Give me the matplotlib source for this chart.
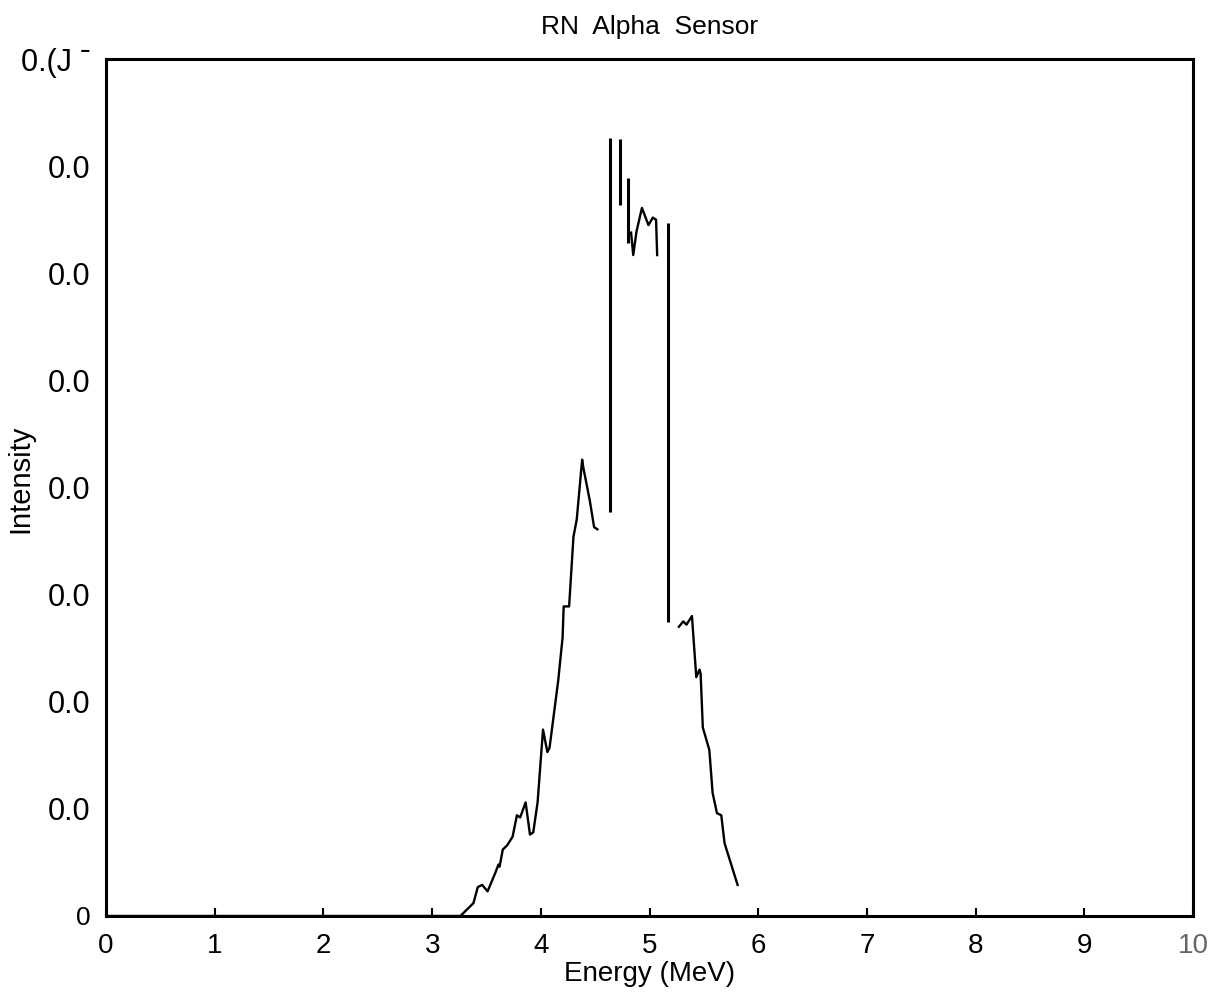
import numpy as np
import matplotlib
matplotlib.use("Agg")
import matplotlib.pyplot as plt

# spectrum, intensity in units of 0.01
seg1_e = [0.0, 3.20, 3.26, 3.31, 3.38, 3.42, 3.46, 3.51, 3.58, 3.61, 3.62, 3.65,
          3.69, 3.74, 3.78, 3.81, 3.86, 3.90, 3.93, 3.97, 4.02, 4.06, 4.08, 4.16,
          4.20, 4.21, 4.26, 4.30, 4.33, 4.38, 4.39, 4.45, 4.49, 4.52]
seg1_i = [0.0, 0.0, 0.0, 0.05, 0.12, 0.27, 0.29, 0.23, 0.40, 0.48, 0.46, 0.62,
          0.66, 0.74, 0.94, 0.92, 1.06, 0.76, 0.78, 1.06, 1.74, 1.53, 1.57, 2.20,
          2.60, 2.89, 2.89, 3.54, 3.70, 4.26, 4.19, 3.88, 3.63, 3.61]

seg2_e = [4.83, 4.85, 4.88, 4.93, 4.96, 4.99, 5.03, 5.06, 5.07]
seg2_i = [6.38, 6.17, 6.39, 6.61, 6.53, 6.45, 6.52, 6.50, 6.17]

seg3_e = [5.27, 5.31, 5.34, 5.39, 5.43, 5.46, 5.47, 5.49, 5.55, 5.58, 5.62,
          5.66, 5.69, 5.73, 5.81]
seg3_i = [2.70, 2.75, 2.72, 2.80, 2.23, 2.30, 2.26, 1.76, 1.55, 1.15, 0.96,
          0.94, 0.68, 0.55, 0.29]

# isolated vertical strokes: energy, low, high
vline_e = [4.64, 4.73, 4.80, 5.17]
vline_lo = [3.77, 6.64, 6.28, 2.74]
vline_hi = [7.26, 7.25, 6.89, 6.47]

xticks = [0, 1, 2, 3, 4, 5, 6, 7, 8, 9, 10]
yticks = [0, 1, 2, 3, 4, 5, 6, 7, 8]
ylabels = ["0", "0.0", "0.0", "0.0", "0.0", "0.0", "0.0", "0.0", "0.(J ˉ"]

scale = 0.01
fam = ["Liberation Sans", "DejaVu Sans"]

fig = plt.figure(figsize=(12.19, 9.99), dpi=100)
ax = fig.add_axes([0.087, 0.0831, 0.8917, 0.8578])

ax.plot(seg1_e, np.array(seg1_i) * scale, color="black", lw=1.7)
ax.plot(seg2_e, np.array(seg2_i) * scale, color="black", lw=1.7)
ax.plot(seg3_e, np.array(seg3_i) * scale, color="black", lw=1.7)
ax.vlines(vline_e, np.array(vline_lo) * scale, np.array(vline_hi) * scale,
          color="black", lw=2.2)

ax.set_xlim(0, 10)
ax.set_ylim(0, 0.08)

ax.set_xticks(xticks)
ax.set_xticklabels([str(t) for t in xticks], family=fam, fontsize=20)
ax.get_xticklabels()[-1].set_color("#666666")
ax.set_yticks(np.array(yticks) * scale)
ax.set_yticklabels(ylabels, family=fam, fontsize=22)
ax.get_yticklabels()[0].set_fontsize(19)
ax.tick_params(axis="x", direction="in", length=6, width=1.5, pad=12)
ax.tick_params(axis="y", length=0, pad=11)

for s in ax.spines.values():
    s.set_linewidth(2.2)

ax.set_title("RN  Alpha  Sensor", family=fam, fontsize=19, pad=18)
ax.set_xlabel("Energy (MeV)", family=fam, fontsize=20, labelpad=2)
ax.set_ylabel("Intensity", family=fam, fontsize=21)
ax.yaxis.set_label_coords(-0.066, 0.51)

fig.savefig("out.png", dpi=100)
